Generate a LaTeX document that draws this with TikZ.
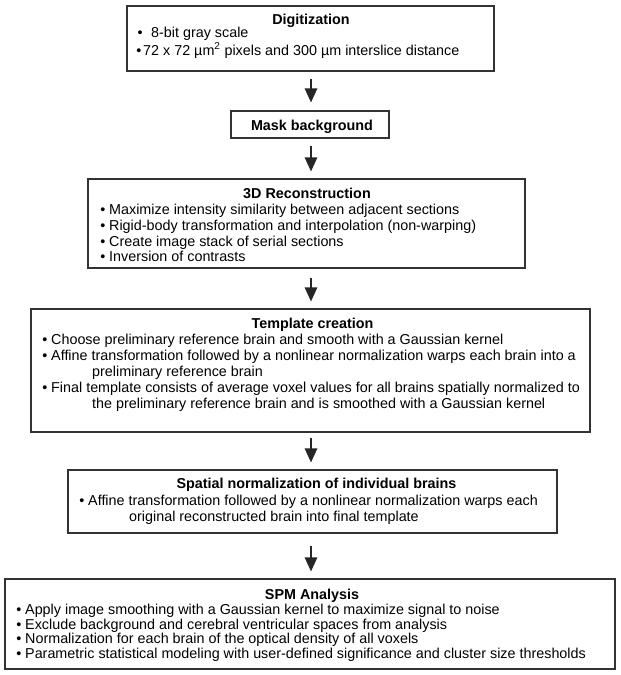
\documentclass[tikz,border=0pt]{standalone}
\usepackage{fontspec}
\setmainfont{Liberation Sans}
\usetikzlibrary{arrows.meta}
\newcommand{\bl}[1][3.9pt]{\llap{\textbullet\hspace{#1}}}
\begin{document}
\begin{tikzpicture}[x=1pt,y=-1pt,
  box/.style={draw=black!80, line width=1.2pt, inner sep=0pt, fill=none},
  txt/.style={anchor=base west, inner sep=0pt, font=\fontsize{14.35}{16}\selectfont, text=black},
  ttl/.style={anchor=base, inner sep=0pt, font=\fontsize{14.35}{16}\selectfont\bfseries, text=black},
  arr/.style={line width=1.3pt, draw=black!85, -{Triangle[length=14pt,width=12.5pt]}, shorten <=7pt, shorten >=7pt}]
\useasboundingbox[fill=white] (0,0) rectangle (621,675);

% boxes
\node[box, minimum width=367pt, minimum height=65pt] (b1) at (310.5,38.5) {};
\node[box, minimum width=158pt, minimum height=27pt] (b2) at (310,124.5) {};
\node[box, minimum width=437pt, minimum height=89pt] (b3) at (306.5,223.5) {};
\node[box, minimum width=559pt, minimum height=123pt] (b4) at (310.5,370.5) {};
\node[box, minimum width=489pt, minimum height=63pt] (b5) at (312.5,501.5) {};
\node[box, minimum width=610pt, minimum height=90pt] (b6) at (310,624) {};

% box 1
\node[ttl] (t1) at (311,24) {Digitization};
\node[txt] (t1a) at (151,37.5) {\bl[8.5pt]8-bit gray scale};
\node[txt] (t1b) at (143,55) {\bl[1.9pt]72 x 72 µm\textsuperscript{2} pixels and 300 µm interslice distance};

% box 2
\node[ttl] (t2) at (312,130) {Mask background};

% box 3
\node[ttl] (t3) at (307,198) {3D Reconstruction};
\node[txt] (t3a) at (109,214) {\bl Maximize intensity similarity between adjacent sections};
\node[txt] (t3b) at (109,230) {\bl Rigid-body transformation and interpolation (non-warping)};
\node[txt] (t3c) at (109,246) {\bl Create image stack of serial sections};
\node[txt] (t3d) at (109,261.5) {\bl Inversion of contrasts};

% box 4
\node[ttl] (t4) at (312.5,328) {Template creation};
\node[txt] (t4a) at (51,344) {\bl Choose preliminary reference brain and smooth with a Gaussian kernel};
\node[txt] (t4b) at (51,360) {\bl Affine transformation followed by a nonlinear normalization warps each brain into a};
\node[txt] (t4c) at (92,376) {preliminary reference brain};
\node[txt] (t4d) at (51,392) {\bl Final template consists of average voxel values for all brains spatially normalized to};
\node[txt] (t4e) at (92,408) {the preliminary reference brain and is smoothed with a Gaussian kernel};

% box 5
\node[ttl] (t5) at (316.5,488.5) {Spatial normalization of individual brains};
\node[txt] (t5a) at (88,505) {\bl Affine transformation followed by a nonlinear normalization warps each};
\node[txt] (t5b) at (129,521) {original reconstructed brain into final template};

% box 6
\node[ttl] (t6) at (312,599.5) {SPM Analysis};
\node[txt] (t6a) at (25,614.3) {\bl Apply image smoothing with a Gaussian kernel to maximize signal to noise};
\node[txt] (t6b) at (25,629) {\bl Exclude background and cerebral ventricular spaces from analysis};
\node[txt] (t6c) at (25,643.7) {\bl Normalization for each brain of the optical density of all voxels};
\node[txt] (t6d) at (25,658.3) {\bl Parametric statistical modeling with user-defined significance and cluster size thresholds};

% arrows
\coordinate (ax) at (311,0);
\draw[arr, shorten >=8pt] (b1.south -| ax) -- (b2.north -| ax);
\draw[arr] (b2.south -| ax) -- (b3.north -| ax);
\draw[arr, shorten <=9pt] (b3.south -| ax) -- (b4.north -| ax);
\draw[arr, shorten <=5pt] (b4.south -| ax) -- (b5.north -| ax);
\draw[arr, shorten <=12pt] (b5.south -| ax) -- (b6.north -| ax);
\end{tikzpicture}
\end{document}
